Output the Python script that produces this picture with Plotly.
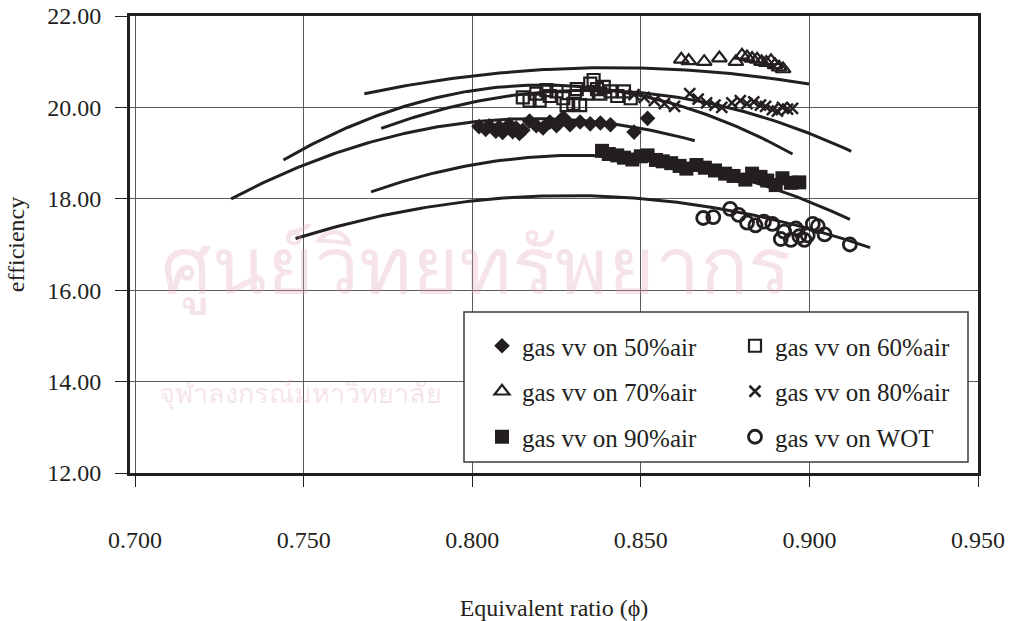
import numpy as np
import plotly.graph_objects as go

# Brake thermal efficiency (%) against equivalence ratio for each gas-valve setting
phi_50 = [0.802, 0.804, 0.805, 0.807, 0.808, 0.809, 0.810, 0.811, 0.812, 0.813, 0.814, 0.815,
          0.817, 0.819, 0.821, 0.823, 0.825, 0.827, 0.829, 0.832, 0.835, 0.838, 0.841, 0.848, 0.852]
eff_50 = [19.58, 19.52, 19.60, 19.48, 19.57, 19.45, 19.55, 19.62, 19.47, 19.55, 19.43, 19.50,
          19.70, 19.60, 19.55, 19.68, 19.60, 19.78, 19.62, 19.68, 19.64, 19.66, 19.62, 19.46, 19.76]

phi_60 = [0.815, 0.817, 0.819, 0.820, 0.822, 0.823, 0.825, 0.827, 0.828, 0.830, 0.831,
          0.832, 0.834, 0.835, 0.836, 0.837, 0.838, 0.839, 0.841, 0.843, 0.845, 0.847]
eff_60 = [20.22, 20.15, 20.30, 20.15, 20.38, 20.25, 20.35, 20.20, 20.05, 20.08, 20.40,
          20.05, 20.30, 20.52, 20.60, 20.40, 20.30, 20.45, 20.35, 20.25, 20.35, 20.20]

phi_70 = [0.8620, 0.8642, 0.8688, 0.8733, 0.8782, 0.8800, 0.8815, 0.8830, 0.8845, 0.8858,
          0.8872, 0.8886, 0.8898, 0.8910, 0.8922]
eff_70 = [21.05, 21.02, 21.00, 21.08, 21.00, 21.14, 21.10, 21.07, 21.05, 21.00,
          20.98, 21.02, 20.93, 20.88, 20.84]

phi_80 = [0.8480, 0.8510, 0.8540, 0.8570, 0.8600, 0.8645, 0.8670, 0.8695, 0.8720, 0.8740, 0.8770,
          0.8795, 0.8815, 0.8835, 0.8855, 0.8870, 0.8890, 0.8905, 0.8920, 0.8935, 0.8950]
eff_80 = [20.28, 20.22, 20.15, 20.08, 20.02, 20.30, 20.18, 20.10, 20.05, 20.00, 20.10,
          20.15, 20.08, 20.12, 20.05, 20.02, 19.95, 19.92, 20.00, 19.96, 19.98]

phi_90 = [0.8385, 0.8405, 0.8430, 0.8450, 0.8475, 0.8500, 0.8520, 0.8545, 0.8565, 0.8590, 0.8615,
          0.8635, 0.8665, 0.8690, 0.8720, 0.8750, 0.8775, 0.8810, 0.8830, 0.8855, 0.8875, 0.8900,
          0.8920, 0.8945, 0.8970]
eff_90 = [19.05, 18.98, 18.95, 18.90, 18.86, 18.93, 18.95, 18.85, 18.82, 18.78, 18.72,
          18.66, 18.74, 18.68, 18.62, 18.55, 18.50, 18.42, 18.55, 18.48, 18.40, 18.30,
          18.45, 18.35, 18.36]

phi_wot = [0.8685, 0.8715, 0.8765, 0.8790, 0.8815, 0.8840, 0.8865, 0.8890, 0.8915, 0.8925,
           0.8945, 0.8960, 0.8970, 0.8985, 0.8995, 0.9010, 0.9025, 0.9045, 0.9120]
eff_wot = [17.58, 17.60, 17.78, 17.65, 17.48, 17.42, 17.50, 17.45, 17.12, 17.28,
           17.10, 17.35, 17.18, 17.10, 17.20, 17.45, 17.40, 17.22, 17.00]

# Second-order trend lines: start point, crest point, end point of each curve
trend_50_phi = [0.7285, 0.800, 0.866]
trend_50_eff = [18.00, 19.68, 19.27]
trend_60_phi = [0.744, 0.809, 0.8950]
trend_60_eff = [18.85, 20.45, 18.98]
trend_70_phi = [0.768, 0.840, 0.8999]
trend_70_eff = [20.30, 20.87, 20.51]
trend_80_phi = [0.773, 0.809, 0.9124]
trend_80_eff = [19.54, 20.23, 19.04]
trend_90_phi = [0.770, 0.830, 0.912]
trend_90_eff = [18.15, 18.95, 17.55]
trend_wot_phi = [0.7476, 0.8285, 0.918]
trend_wot_eff = [17.13, 18.07, 16.93]

series_names = ["gas vv on 50%air", "gas vv on 60%air", "gas vv on 70%air",
                "gas vv on 80%air", "gas vv on 90%air", "gas vv on WOT"]

x_ticks = [0.700, 0.750, 0.800, 0.850, 0.900, 0.950]
y_ticks = [12, 14, 16, 18, 20, 22]

# faint library stamp printed across the page
stamp_line_1 = "ศูนย์วิทยทรัพยากร"
stamp_line_2 = "จุฬาลงกรณ์มหาวิทยาลัย"

INK = "#231f20"
SERIF = "Liberation Serif, Times New Roman, serif"
STAMP = "rgba(226,160,190,0.30)"

# plot-area frame in pixels
L, R, T, B = 130, 978, 16, 473
W, H = R - L, B - T

series = [
    (series_names[0], phi_50, eff_50, trend_50_phi, trend_50_eff,
     dict(symbol="diamond", size=12, color=INK, line=dict(width=0)), "legend"),
    (series_names[1], phi_60, eff_60, trend_60_phi, trend_60_eff,
     dict(symbol="square-open", size=12, color=INK, line=dict(width=2.2, color=INK)), "legend2"),
    (series_names[2], phi_70, eff_70, trend_70_phi, trend_70_eff,
     dict(symbol="triangle-up-open", size=13, color=INK, line=dict(width=2.2, color=INK)), "legend"),
    (series_names[3], phi_80, eff_80, trend_80_phi, trend_80_eff,
     dict(symbol="x-thin-open", size=11, color=INK, line=dict(width=2.5, color=INK)), "legend2"),
    (series_names[4], phi_90, eff_90, trend_90_phi, trend_90_eff,
     dict(symbol="square", size=14, color=INK, line=dict(width=0)), "legend"),
    (series_names[5], phi_wot, eff_wot, trend_wot_phi, trend_wot_eff,
     dict(symbol="circle-open", size=13, color=INK, line=dict(width=2.8, color=INK)), "legend2"),
]

fig = go.Figure()

# trend curves underneath the markers
for name, px, py, tp, te, mk, lg in series:
    coef = np.polyfit(tp, te, 2)
    xs = np.linspace(tp[0], tp[-1], 120)
    fig.add_trace(go.Scatter(x=xs, y=np.polyval(coef, xs), mode="lines",
                             line=dict(color=INK, width=3), showlegend=False,
                             hoverinfo="skip"))

for name, px, py, tp, te, mk, lg in series:
    fig.add_trace(go.Scatter(x=px, y=py, mode="markers", name=name, marker=mk,
                             legend=lg, legendgroup=name))

axis_common = dict(
    showgrid=True, gridcolor="#5a5a5a", gridwidth=1,
    showline=True, linecolor=INK, linewidth=3, mirror=True,
    ticks="outside", tickcolor=INK, tickwidth=1,
    zeroline=False, automargin=False,
    tickfont=dict(family=SERIF, size=24, color=INK),
)

legend_common = dict(
    bgcolor="rgba(0,0,0,0)", borderwidth=0,
    font=dict(family=SERIF, size=25, color=INK),
    tracegroupgap=10, xanchor="left", yanchor="top",
    itemclick=False, itemdoubleclick=False,
)

fig.update_layout(
    width=1014, height=621,
    margin=dict(l=L, r=1014 - R, t=T, b=621 - B, autoexpand=False),
    paper_bgcolor="white", plot_bgcolor="white",
    font=dict(family=SERIF, color=INK),
    xaxis=dict(axis_common, range=[0.6985, 0.950], tickvals=x_ticks, tickformat=".3f",
               ticklen=11, ticklabelstandoff=32,
               title=dict(text="Equivalent ratio (\u03d5)", standoff=48,
                          font=dict(family=SERIF, size=24, color=INK))),
    yaxis=dict(axis_common, range=[12, 22], tickvals=y_ticks, tickformat=".2f",
               ticklen=12, ticklabelstandoff=9,
               title=dict(text="efficiency", standoff=16,
                          font=dict(family=SERIF, size=24, color=INK))),
    legend=dict(legend_common, x=(482 - L) / W, y=(B - 323) / H),
    legend2=dict(legend_common, x=(735 - L) / W, y=(B - 323) / H),
    shapes=[dict(type="rect", xref="paper", yref="paper",
                 x0=(464 - L) / W, x1=(968 - L) / W,
                 y0=(B - 462) / H, y1=(B - 312) / H,
                 fillcolor="white", line=dict(color="#3a3a3a", width=1.5),
                 layer="above")],
    annotations=[
        dict(text=stamp_line_1, xref="paper", yref="paper", xanchor="center", yanchor="middle",
             x=(476 - L) / W, y=(B - 262) / H, showarrow=False,
             font=dict(family="Noto Sans, DejaVu Sans, sans-serif", size=80, color=STAMP)),
        dict(text=stamp_line_2, xref="paper", yref="paper", xanchor="center", yanchor="middle",
             x=(300 - L) / W, y=(B - 392) / H, showarrow=False,
             font=dict(family="Noto Sans, DejaVu Sans, sans-serif", size=27, color=STAMP)),
    ],
)

fig.write_html("out.html")
